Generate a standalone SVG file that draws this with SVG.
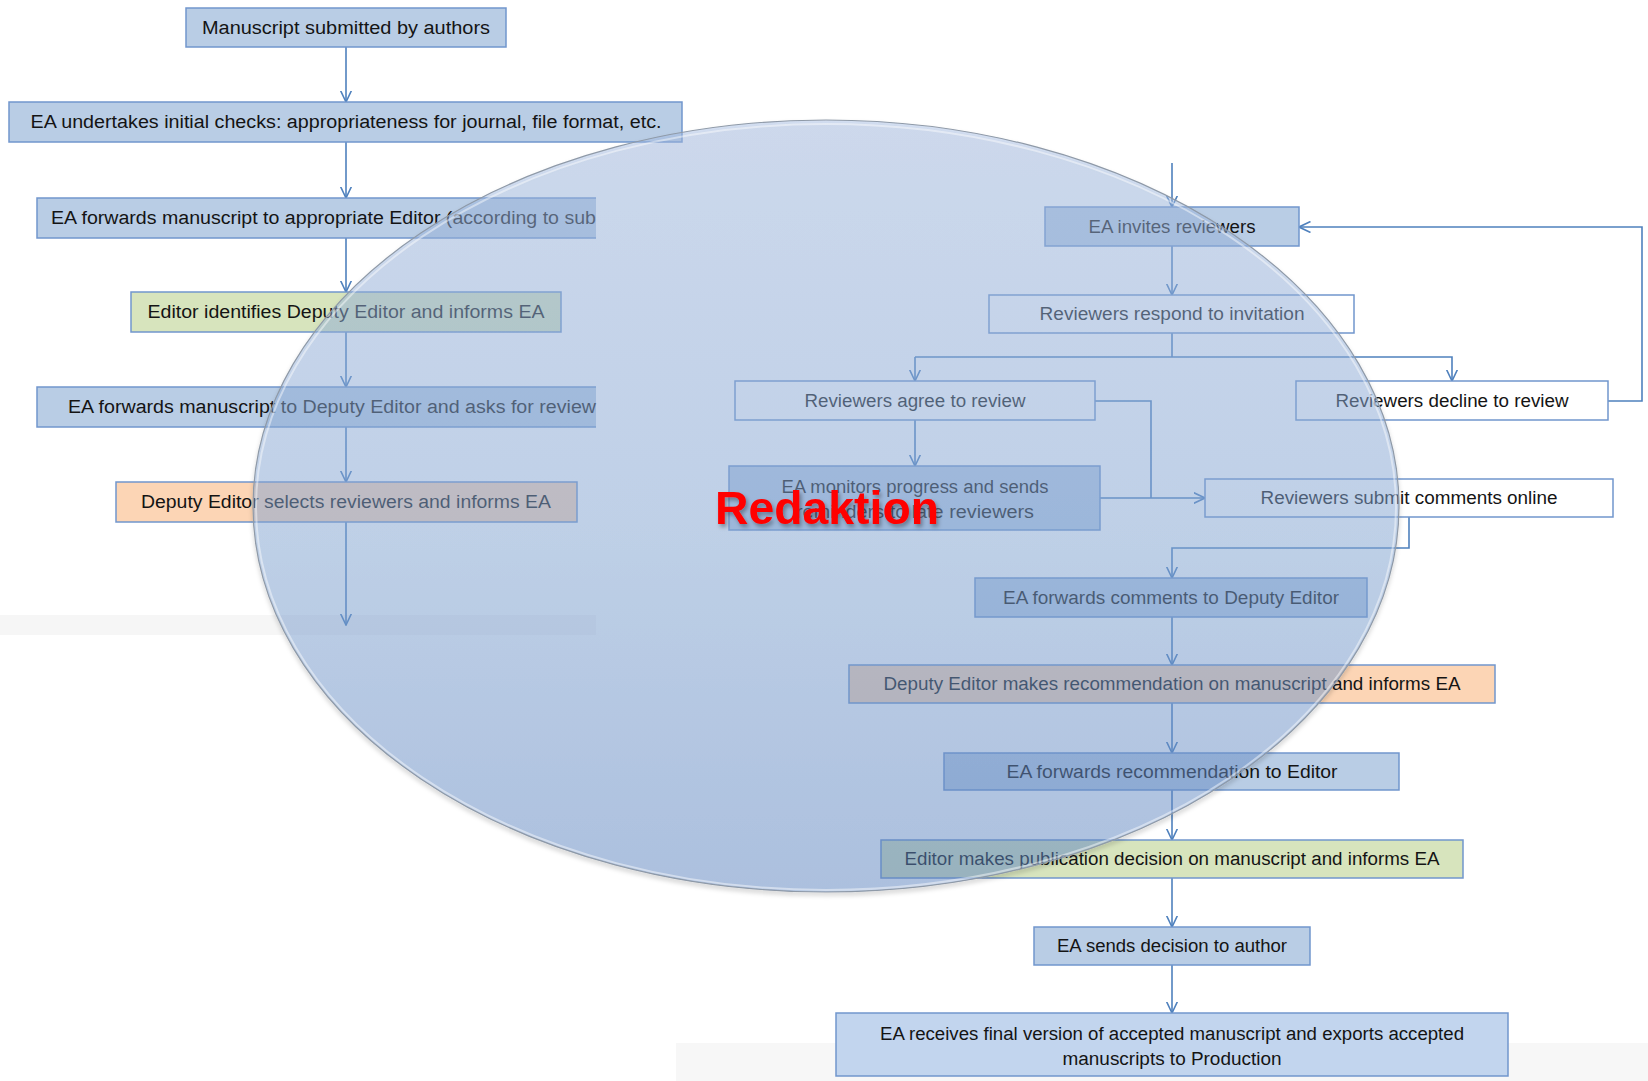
<svg xmlns="http://www.w3.org/2000/svg" width="1648" height="1081" viewBox="0 0 1648 1081">
<defs>
<style>
.box{stroke:#7196cd;stroke-width:1.5}
.blue{fill:#b9cde5}
.lblue{fill:#c2d5ee}
.green{fill:#d7e4bd}
.orange{fill:#fcd5b5}
.white{fill:#ffffff}
.t{font-family:"Liberation Sans",Arial,sans-serif;font-size:18px;fill:#141414;text-anchor:middle}
.ts{text-anchor:start}
.c{fill:none;stroke:#4f81bd;stroke-width:1.6}
.ca{fill:none;stroke:#4f81bd;stroke-width:1.6;marker-end:url(#arr)}
</style>
<marker id="arr" viewBox="0 0 12 12" refX="11.5" refY="6" markerWidth="12" markerHeight="12" markerUnits="userSpaceOnUse" orient="auto">
<path d="M0,0.5 L11.5,6 L0,11.5" fill="none" stroke="#4f81bd" stroke-width="1.6"/>
</marker>
<linearGradient id="eg" x1="0" y1="0" x2="0" y2="1">
<stop offset="0" stop-color="#a6bee6"/>
<stop offset="0.55" stop-color="#88acdc"/>
<stop offset="1" stop-color="#628bca"/>
</linearGradient>
<filter id="sh" x="-10%" y="-20%" width="130%" height="150%">
<feDropShadow dx="2" dy="3" stdDeviation="2" flood-color="#000" flood-opacity="0.35"/>
</filter>
<filter id="esh" x="-5%" y="-5%" width="110%" height="115%">
<feDropShadow dx="0" dy="3" stdDeviation="2" flood-color="#000" flood-opacity="0.25"/>
</filter>
</defs>
<rect width="1648" height="1081" fill="#ffffff"/>
<rect x="0" y="615" width="596" height="20" fill="#f6f6f6"/>
<rect x="676" y="1043" width="972" height="38" fill="#f7f7f7"/>

<g id="connectors">
<path class="ca" d="M346,47 V102"/>
<path class="ca" d="M346,142 V198"/>
<path class="ca" d="M346,238 V292"/>
<path class="ca" d="M346,332 V387"/>
<path class="ca" d="M346,427 V482"/>
<path class="ca" d="M346,522 V625"/>
<path class="ca" d="M1172,163 V207"/>
<path class="ca" d="M1172,246 V295"/>
<path class="c" d="M1172,333 V357"/>
<path class="ca" d="M915,357 H1452 V381"/>
<path class="ca" d="M915,357 V381"/>
<path class="ca" d="M1608,401 H1642 V227 H1299"/>
<path class="ca" d="M915,420 V466"/>
<path class="c" d="M1095,401 H1151 V498"/>
<path class="ca" d="M1100,498 H1205"/>
<path class="ca" d="M1409,517 V548 H1172 V578"/>
<path class="ca" d="M1172,617 V665"/>
<path class="ca" d="M1172,703 V753"/>
<path class="ca" d="M1172,790 V840"/>
<path class="ca" d="M1172,878 V927"/>
<path class="ca" d="M1172,965 V1013"/>
</g>

<g id="n1"><rect class="box blue" x="186" y="8" width="320" height="39"/><text class="t" x="346" y="34" textLength="288" lengthAdjust="spacingAndGlyphs">Manuscript submitted by authors</text></g>
<g id="n2"><rect class="box blue" x="9" y="102" width="673" height="40"/><text class="t" x="346" y="128" textLength="631" lengthAdjust="spacingAndGlyphs">EA undertakes initial checks: appropriateness for journal, file format, etc.</text></g>
<g id="n3"><rect class="blue" x="37" y="198" width="559" height="40"/><path class="box" fill="none" d="M596,198 H37 V238 H596"/><text class="t ts" x="51" y="224" textLength="545" lengthAdjust="spacingAndGlyphs">EA forwards manuscript to appropriate Editor (according to sub</text></g>
<g id="n4"><rect class="box green" x="131" y="292" width="430" height="40"/><text class="t" x="346" y="318" textLength="397" lengthAdjust="spacingAndGlyphs">Editor identifies Deputy Editor and informs EA</text></g>
<g id="n5"><rect class="blue" x="37" y="387" width="559" height="40"/><path class="box" fill="none" d="M596,387 H37 V427 H596"/><text class="t ts" x="68" y="413" textLength="528" lengthAdjust="spacingAndGlyphs">EA forwards manuscript to Deputy Editor and asks for review</text></g>
<g id="n6"><rect class="box orange" x="116" y="482" width="461" height="40"/><text class="t" x="346" y="508" textLength="410" lengthAdjust="spacingAndGlyphs">Deputy Editor selects reviewers and informs EA</text></g>

<g id="n7"><rect class="box blue" x="1045" y="207" width="254" height="39"/><text class="t" x="1172" y="233" textLength="167" lengthAdjust="spacingAndGlyphs">EA invites reviewers</text></g>
<g id="n8"><rect class="box white" x="989" y="295" width="365" height="38"/><text class="t" x="1172" y="320" textLength="265" lengthAdjust="spacingAndGlyphs">Reviewers respond to invitation</text></g>
<g id="n9"><rect class="box white" x="735" y="381" width="360" height="39"/><text class="t" x="915" y="407" textLength="221" lengthAdjust="spacingAndGlyphs">Reviewers agree to review</text></g>
<g id="n10"><rect class="box white" x="1296" y="381" width="312" height="39"/><text class="t" x="1452" y="407" textLength="233" lengthAdjust="spacingAndGlyphs">Reviewers decline to review</text></g>
<g id="n11"><rect class="box blue" x="729" y="466" width="371" height="64"/><text class="t" x="915" y="493" textLength="267" lengthAdjust="spacingAndGlyphs">EA monitors progress and sends</text><text class="t" x="915" y="518" textLength="238" lengthAdjust="spacingAndGlyphs">reminders to late reviewers</text></g>
<g id="n12"><rect class="box white" x="1205" y="479" width="408" height="38"/><text class="t" x="1409" y="504" textLength="297" lengthAdjust="spacingAndGlyphs">Reviewers submit comments online</text></g>
<g id="n13"><rect class="box blue" x="975" y="578" width="392" height="39"/><text class="t" x="1171" y="604" textLength="336" lengthAdjust="spacingAndGlyphs">EA forwards comments to Deputy Editor</text></g>
<g id="n14"><rect class="box orange" x="849" y="665" width="646" height="38"/><text class="t" x="1172" y="690" textLength="577" lengthAdjust="spacingAndGlyphs">Deputy Editor makes recommendation on manuscript and informs EA</text></g>
<g id="n15"><rect class="box blue" x="944" y="753" width="455" height="37"/><text class="t" x="1172" y="778" textLength="331" lengthAdjust="spacingAndGlyphs">EA  forwards recommendation to Editor</text></g>
<g id="n16"><rect class="box green" x="881" y="840" width="582" height="38"/><text class="t" x="1172" y="865" textLength="535" lengthAdjust="spacingAndGlyphs">Editor makes publication decision on manuscript and informs EA</text></g>
<g id="n17"><rect class="box blue" x="1034" y="927" width="276" height="38"/><text class="t" x="1172" y="952" textLength="230" lengthAdjust="spacingAndGlyphs">EA sends decision to author</text></g>
<g id="n18"><rect class="box lblue" x="836" y="1013" width="672" height="63"/><text class="t" x="1172" y="1040" textLength="584" lengthAdjust="spacingAndGlyphs">EA receives final version of accepted manuscript and exports accepted</text><text class="t" x="1172" y="1065" textLength="219" lengthAdjust="spacingAndGlyphs">manuscripts to Production</text></g>

<g id="ellipse">
<ellipse cx="826" cy="506" rx="573" ry="386" fill="url(#eg)" fill-opacity="0.45" stroke="#8f9aa8" stroke-width="1.2" filter="url(#esh)"/>
<ellipse cx="826" cy="507" rx="570" ry="383" fill="none" stroke="#ffffff" stroke-opacity="0.45" stroke-width="2"/>
</g>

<g id="label">
<text x="715" y="524" font-family="Liberation Sans, Arial, sans-serif" font-size="46" font-weight="bold" fill="#ff0000" filter="url(#sh)" textLength="224" lengthAdjust="spacingAndGlyphs">Redaktion</text>
</g>
</svg>
